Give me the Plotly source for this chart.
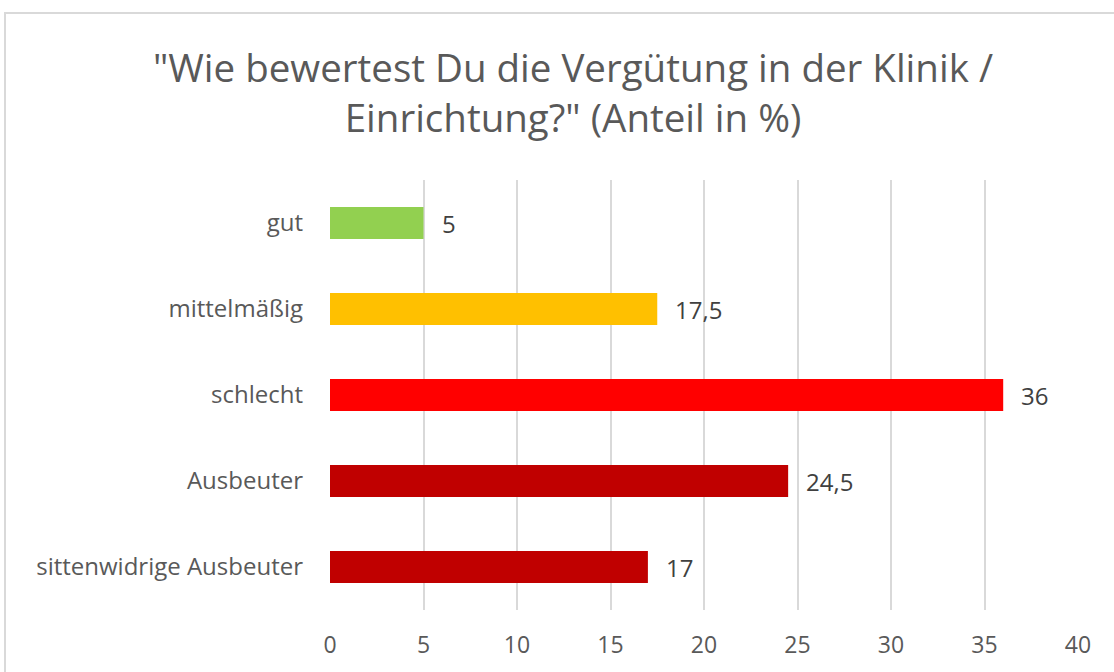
import plotly.graph_objects as go

categories = ["gut", "mittelmäßig", "schlecht", "Ausbeuter", "sittenwidrige Ausbeuter"]
values = [5, 17.5, 36, 24.5, 17]
colors = ["#92D050", "#FFC000", "#FF0000", "#C00000", "#C00000"]
tick_vals = [0, 5, 10, 15, 20, 25, 30, 35, 40]
title_text = "\"Wie bewertest Du die Vergütung in der Klinik /<br>Einrichtung?\" (Anteil in %)"

FONT = "Open Sans, sans-serif"
labels = [str(v).replace(".", ",") for v in values]

W, H = 1114, 672

fig = go.Figure()
fig.add_trace(go.Bar(
    y=categories, x=values, orientation="h",
    marker=dict(color=colors, line=dict(width=0)),
    width=0.37, hoverinfo="skip",
))
for c, v, t in zip(categories, values, labels):
    fig.add_annotation(x=v, y=c, text=t, showarrow=False, xanchor="left",
                       xshift=16, font=dict(family=FONT, size=24, color="#404040"))

fig.add_shape(type="rect", xref="paper", yref="paper",
              x0=(5 - 330) / 748, x1=1.2, y0=-0.3, y1=(610 - 13) / 430,
              line=dict(color="#d9d9d9", width=2), fillcolor="rgba(0,0,0,0)", layer="below")

fig.update_layout(
    width=W, height=H,
    margin=dict(l=330, r=36, t=180, b=62),
    paper_bgcolor="white", plot_bgcolor="white",
    showlegend=False,
    title=dict(text=title_text, x=573 / W, xanchor="center", y=1 - 82 / H,
               yanchor="middle", font=dict(family=FONT, size=38.5, color="#595959")),
    xaxis=dict(range=[0, 40], tickvals=tick_vals, showgrid=True, gridcolor="#d9d9d9",
               gridwidth=2, zeroline=False, showline=False, ticks="",
               tickfont=dict(family=FONT, size=23, color="#595959"),
               ticklabelstandoff=19, fixedrange=True),
    yaxis=dict(autorange=False, range=[4.5, -0.5], categoryorder="array",
               categoryarray=categories, showgrid=False, zeroline=False, showline=False,
               ticks="", tickfont=dict(family=FONT, size=24, color="#595959"),
               ticklabelstandoff=26, fixedrange=True),
)
fig.write_html("out.html", config={"displayModeBar": False, "staticPlot": True},
               post_script="document.body.style.margin='0';document.body.style.overflow='hidden';")
